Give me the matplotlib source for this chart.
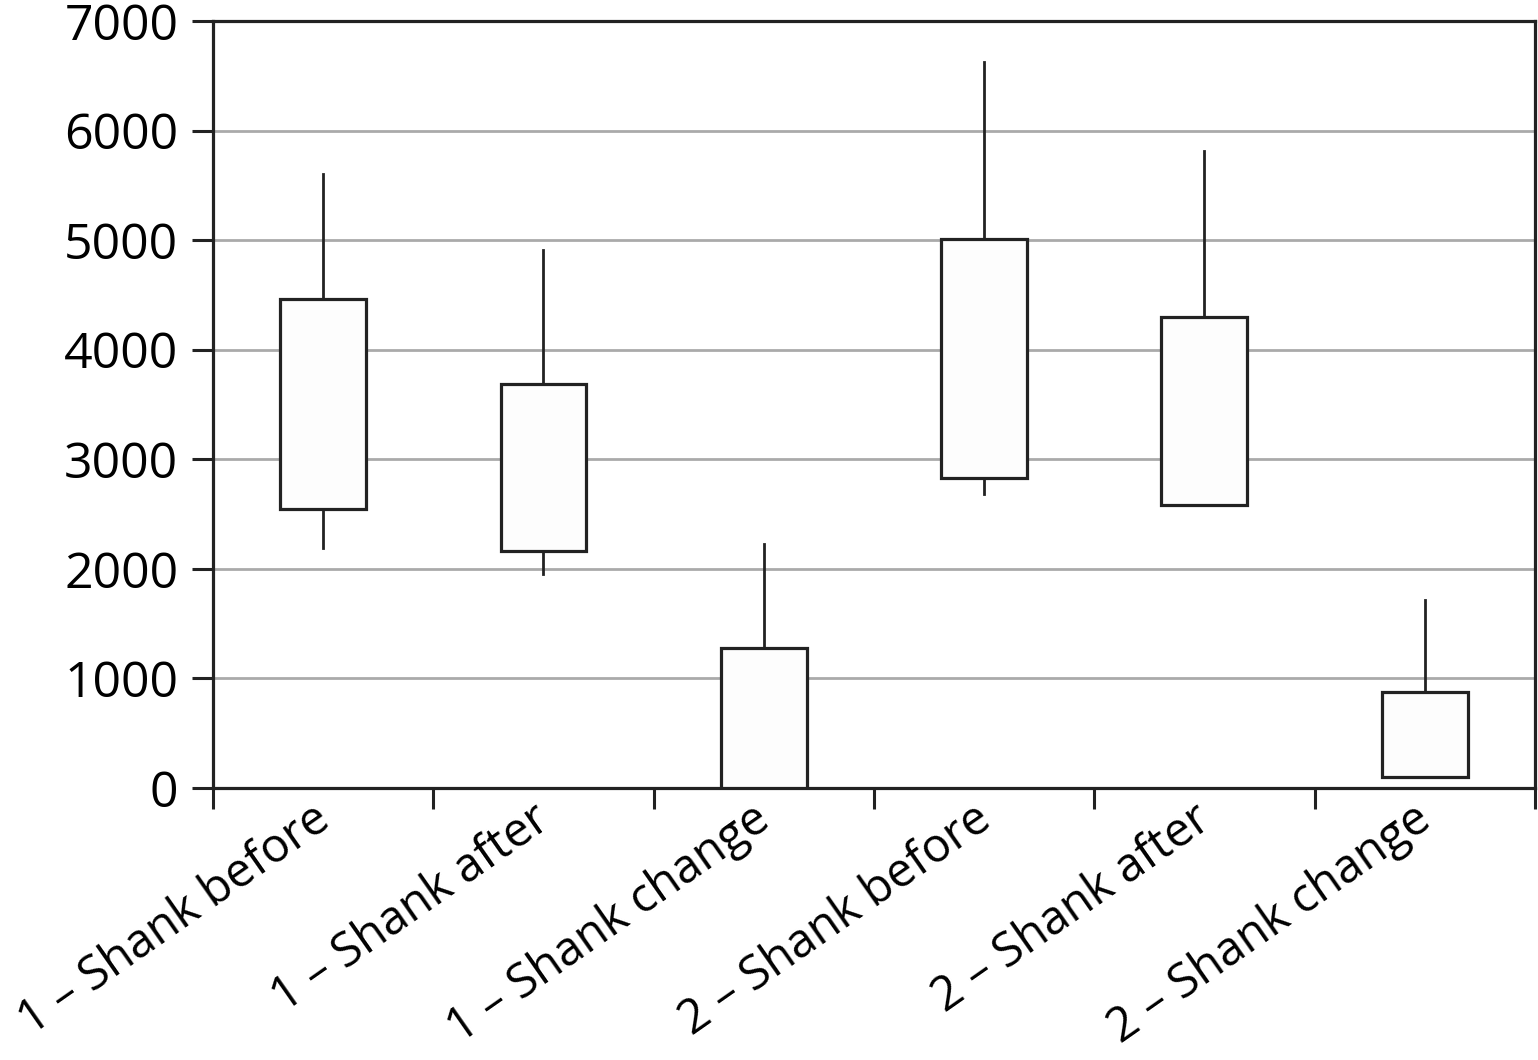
import matplotlib
matplotlib.use("Agg")
import matplotlib.pyplot as plt
from matplotlib.ticker import FixedLocator, NullFormatter
from matplotlib.transforms import ScaledTranslation

plt.rcParams['font.family'] = ['Open Sans', 'DejaVu Sans']

# values
labels = ['1 – Shank before', '1 – Shank after', '1 – Shank change',
          '2 – Shank before', '2 – Shank after', '2 – Shank change']
q1 = [2550, 2160, 0, 2830, 2580, 100]
q3 = [4460, 3690, 1280, 5010, 4300, 880]
whis_lo = [2190, 1950, 0, 2680, 2580, 100]
whis_hi = [5600, 4910, 2230, 6630, 5810, 1720]

line_col = '#222222'

stats = []
for lab, a, b, lo, hi in zip(labels, q1, q3, whis_lo, whis_hi):
    stats.append({'label': lab, 'q1': a, 'q3': b, 'med': a,
                  'whislo': lo, 'whishi': hi, 'fliers': []})

fig = plt.figure(figsize=(15.38, 10.6), dpi=100)
ax = fig.add_axes([0.1385, 0.2566, 0.8595, 0.7236])

pos = [i + 0.5 for i in range(len(labels))]
ax.bxp(stats, positions=pos, widths=0.39, patch_artist=True, showcaps=False,
       showfliers=False,
       boxprops=dict(facecolor='#fdfdfd', edgecolor=line_col, linewidth=2.3),
       whiskerprops=dict(color=line_col, linewidth=2.0),
       medianprops=dict(linewidth=0), zorder=3)

ax.set_xlim(0, len(labels))
ax.set_ylim(0, 7000)
ax.set_yticks(range(0, 7001, 1000))
ax.yaxis.grid(True, color='#aaaaaa', linewidth=2.0, zorder=0)
ax.set_axisbelow(True)

# boundary ticks (unlabelled) and centred labels
ax.xaxis.set_major_locator(FixedLocator(range(len(labels) + 1)))
ax.xaxis.set_major_formatter(NullFormatter())
ax.xaxis.set_minor_locator(FixedLocator(pos))
ax.set_xticklabels(labels, minor=True, rotation=35, ha='right', va='top',
                   rotation_mode='anchor', fontsize=34)
ax.tick_params(axis='x', which='major', length=15, width=2.2, color=line_col)
ax.tick_params(axis='x', which='minor', length=0, pad=5)
ax.tick_params(axis='y', length=15, width=2.2, color=line_col, labelsize=36,
               pad=10)
shift = ScaledTranslation(-0.12, 0, fig.dpi_scale_trans)
for lbl in ax.get_xticklabels(minor=True):
    lbl.set_transform(lbl.get_transform() + shift)

for s in ax.spines.values():
    s.set_color(line_col)
    s.set_linewidth(2.3)

fig.savefig('out.png', dpi=100, facecolor='white')
